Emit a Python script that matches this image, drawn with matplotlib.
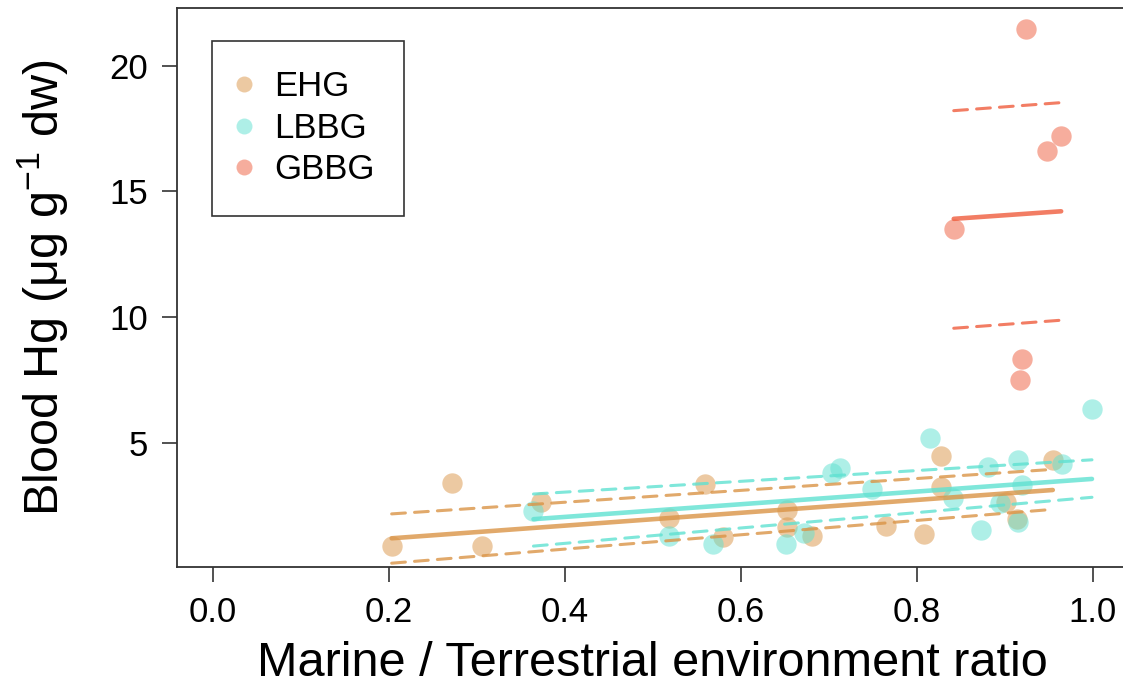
import matplotlib
matplotlib.use("Agg")
import matplotlib.pyplot as plt
from matplotlib.lines import Line2D

plt.rcParams['font.family'] = ['Liberation Sans', 'DejaVu Sans']
plt.rcParams['mathtext.fontset'] = 'custom'
plt.rcParams['mathtext.rm'] = 'Liberation Sans'
plt.rcParams['mathtext.it'] = 'Liberation Sans:italic'

# species colours (base), points drawn with alpha
colors = {"EHG": "#DA9446", "LBBG": "#5FE1D1", "GBBG": "#EF5D3D"}
species = ["EHG", "LBBG", "GBBG"]

# observations: marine/terrestrial ratio vs blood Hg
ehg_x = [0.2035, 0.2716, 0.306, 0.373, 0.518, 0.559, 0.580, 0.653, 0.653,
         0.681, 0.765, 0.8085, 0.827, 0.827, 0.9015, 0.914, 0.9545]
ehg_y = [0.905, 3.42, 0.92, 2.67, 2.0, 3.38, 1.27, 2.34, 1.65,
         1.30, 1.70, 1.38, 4.50, 3.26, 2.67, 1.97, 4.32]

lbbg_x = [0.3646, 0.518, 0.569, 0.652, 0.672, 0.704, 0.713, 0.749, 0.815,
          0.841, 0.873, 0.881, 0.895, 0.915, 0.915, 0.920, 0.965, 0.999]
lbbg_y = [2.30, 1.31, 0.97, 0.98, 1.43, 3.82, 3.99, 3.17, 5.21,
          2.80, 1.54, 4.06, 2.60, 4.32, 1.87, 3.33, 4.16, 6.35]

gbbg_x = [0.842, 0.917, 0.9197, 0.9246, 0.948, 0.964]
gbbg_y = [13.50, 7.49, 8.33, 21.45, 16.62, 17.22]

# fitted lines (ends) with lower / upper bounds
ehg_fit_x = [0.2035, 0.9545]
ehg_fit = [1.21, 3.13]
ehg_lo = [0.22, 2.36]
ehg_hi = [2.18, 3.95]

lbbg_fit_x = [0.3646, 0.999]
lbbg_fit = [1.97, 3.57]
lbbg_lo = [0.90, 2.84]
lbbg_hi = [2.97, 4.33]

gbbg_fit_x = [0.842, 0.964]
gbbg_fit = [13.91, 14.21]
gbbg_lo = [9.56, 9.88]
gbbg_hi = [18.21, 18.53]

points = {"EHG": (ehg_x, ehg_y), "LBBG": (lbbg_x, lbbg_y), "GBBG": (gbbg_x, gbbg_y)}
fits = {"EHG": (ehg_fit_x, ehg_fit, ehg_lo, ehg_hi),
        "LBBG": (lbbg_fit_x, lbbg_fit, lbbg_lo, lbbg_hi),
        "GBBG": (gbbg_fit_x, gbbg_fit, gbbg_lo, gbbg_hi)}

fig = plt.figure(figsize=(11.23, 6.85), dpi=100)
ax = fig.add_axes([0.1579, 0.1723, 0.8466, 0.8156])

for sp in species:
    xs, ys = points[sp]
    ax.scatter(xs, ys, s=215, color=colors[sp], alpha=0.5, linewidths=0, zorder=2)

for sp in species:
    fx, fy, lo, hi = fits[sp]
    ax.plot(fx, fy, color=colors[sp], alpha=0.8, lw=3.3, solid_capstyle='round', zorder=3)
    for band in (lo, hi):
        ax.plot(fx, band, color=colors[sp], alpha=0.8, lw=2.2, dashes=(4.5, 3),
                dash_capstyle='round', zorder=3)

ax.set_xlim(-0.04, 1.04)
ax.set_ylim(0.07, 22.28)
ax.set_xticks([0.0, 0.2, 0.4, 0.6, 0.8, 1.0])
ax.set_xticklabels(["0.0", "0.2", "0.4", "0.6", "0.8", "1.0"])
ax.set_yticks([5, 10, 15, 20])

for s in ax.spines.values():
    s.set_color("#333333")
    s.set_linewidth(1.3)
ax.tick_params(direction='out', length=10.8, width=1.2, color="#333333",
               labelsize=25, pad=10)

ax.set_xlabel("Marine / Terrestrial environment ratio", fontsize=35)
ax.set_ylabel(r"Blood Hg (μg g$^{-1}$ dw)", fontsize=35)
ax.xaxis.set_label_coords(0.5, -0.132)
ax.yaxis.set_label_coords(-0.1118, 0.5)

handles = [Line2D([], [], ls='none', marker='o', markersize=11.5, markeredgewidth=0,
                  color=colors[sp], alpha=0.5) for sp in species]
leg = ax.legend(handles, species, loc='upper left', bbox_to_anchor=(0.0365, 0.9415),
                borderaxespad=0, fontsize=25, frameon=True, fancybox=False,
                edgecolor='black', borderpad=0.85, labelspacing=0.24,
                handlelength=0.17, handletextpad=0.76)
leg.get_frame().set_linewidth(1.2)

fig.savefig("out.png", dpi=100)
